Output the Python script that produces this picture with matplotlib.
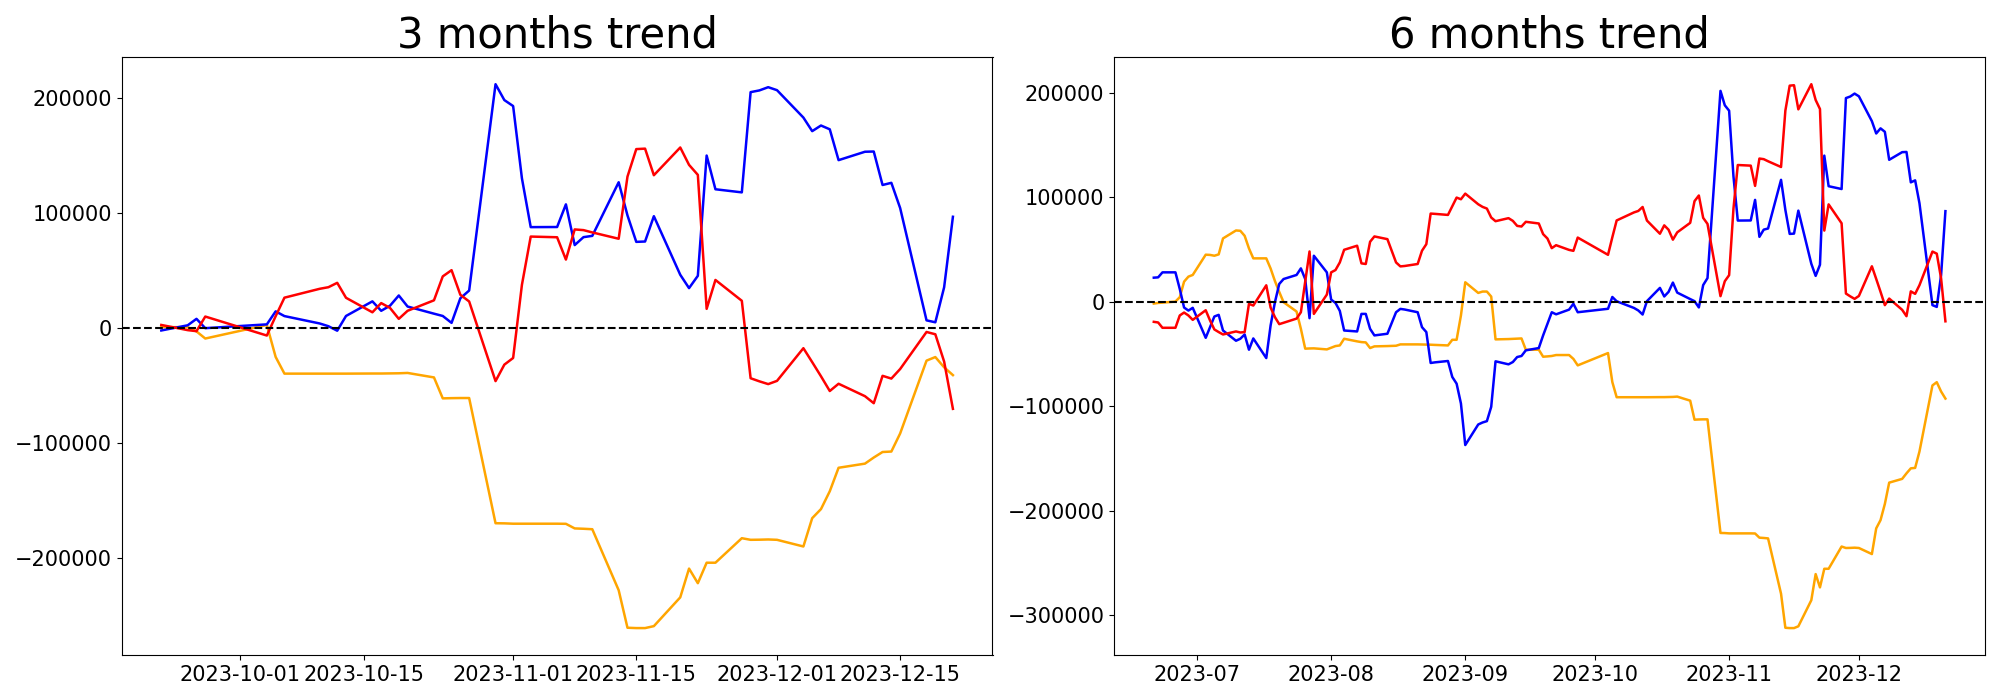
import numpy as np
import pandas as pd
import matplotlib
matplotlib.use("Agg")
import matplotlib.pyplot as plt


# 取引日（KRX休場日を除く）
krx_holidays = ["2023-08-15", "2023-09-28", "2023-09-29",
                "2023-10-02", "2023-10-03", "2023-10-09"]
dates_6m = pd.bdate_range("2023-06-21", "2023-12-21", freq="C", holidays=krx_holidays)
dates_3m = dates_6m[dates_6m >= "2023-09-22"]

# 6ヶ月: 2023-06-21 ~ 2023-09-21 の累積値
six_blue = [23200, 23500, 28300, 28300, 12400, -5400, -8300, -5700,
            -34400, -24200, -14000, -12400, -27400, -37200, -35300, -31200, -45800, -35000,
            -53800, -22600, -300, 17200, 21900, 25800, 32100, 21900, -15600, 44200, 28300,
            2200, -1000, -8600, -27400, -28300, -11500, -11500, -25800, -32100, -30500,
            -9900, -6700, -7300, -9900, -24200, -28900, -58500, -57900, -56600, -71900,
            -78300, -97300,
            -137100, -117400, -115500, -114200, -100500, -56900, -59800, -57600, -52800,
            -51800, -46400, -44200, -32100, -21000, -9900]
six_red = [-19100, -19700, -24800, -24800, -13000, -10200, -13000, -17200,
           -8000, -17800, -26400, -28900, -31200, -28300, -29300, -28900, -1900, -3500,
           15900, -5400, -14600, -21300, -20000, -16000, -9900, 19400, 48300, -11500, 7000,
           28300, 30500, 37800, 49900, 53800, 36900, 36300, 57600, 62700, 60100,
           37800, 34000, 34400, 36300, 49000, 55300, 84600, 84300, 83300, 91600,
           99900, 98300,
           103700, 93500, 91000, 89400, 80800, 77300, 80200, 77600, 72800,
           72200, 76700, 75100, 64900, 60700, 51500]
six_orange = [-1600, -1000, -700, 300, 4500, 19400, 24200, 25800,
              45200, 45000, 44200, 45500, 60800, 68400, 68100, 63300, 51200, 41700,
              41700, 32000, 20000, 9500, -300, -9200, -25800, -44800, -44600, -44500, -45500,
              -43900, -42300, -41700, -35300, -37800, -38500, -38800, -44200, -42600, -42300,
              -42000, -40700, -40700, -40700, -40800, -40900, -41000, -41200, -41700, -36300,
              -36300, -13000,
              18800, 8600, 9900, 9900, 5100, -35900, -35600, -35400, -35200,
              -35000, -45800, -45800, -52500, -52200, -51800]

# 3ヶ月: 2023-09-22 ~ 2023-12-21 の累積値
three_blue = [-2000, 2500, 8100, 0,
              3300, 14600, 10500, 4100, 1700, -2200, 10600, 23300, 15100, 19500, 28400,
              18800, 12600, 10600, 4600, 26000, 32700, 212000, 198200,
              193000, 130200, 87800, 87900, 107600, 72200, 79100, 80200, 126800, 98000,
              75000, 75300, 97300, 46400, 34800, 45500, 150000, 120700, 118000, 205100,
              206600, 209400,
              206800, 183000, 171200, 176100, 172800, 146000, 153300, 153500, 124400,
              126300, 104400, 6800, 5100, 35500, 96800]
three_red = [2800, -1700, -2600, 10100,
             -6400, 10400, 26500, 34200, 35600, 39400, 26400, 13800, 21800, 17600, 8100,
             15100, 24200, 45000, 50400, 29000, 23200, -46000, -31700,
             -25900, 37700, 79600, 79000, 59600, 85800, 85200, 83200, 77700, 131700,
             155600, 156000, 132900, 157000, 141900, 133200, 16800, 41900, 23800, -43500,
             -46200, -48600,
             -45800, -17400, -29500, -41800, -54600, -48300, -59100, -65200, -41400,
             -43800, -35500, -3300, -5300, -29000, -70100]
three_orange = [900, 900, -2800, -9000,
                2800, -25000, -39500, -39500, -39500, -39500, -39500, -39400, -39400, -39300, -39200,
                -38900, -42800, -61000, -60800, -60700, -60700, -169500, -169600,
                -169900, -169900, -169900, -169900, -170000, -174000, -174300, -174700, -227700, -260300,
                -260600, -260600, -258900, -233900, -208900, -221600, -203800, -203800, -182500, -183900,
                -183800, -183600,
                -183900, -189700, -165100, -157200, -141700, -121300, -117700, -112400, -107600,
                -107200, -91500, -28200, -25100, -34000, -40800]

# 6ヶ月の後半 = 3ヶ月の累積 + 9/21時点の値
full_blue = six_blue + [v + six_blue[-1] for v in three_blue]
full_red = six_red + [v + six_red[-1] for v in three_red]
full_orange = six_orange + [v + six_orange[-1] for v in three_orange]

fig, axes = plt.subplots(1, 2, figsize=(20, 7))

panels = [
    (axes[0], dates_3m, three_blue, three_red, three_orange, "3 months trend"),
    (axes[1], dates_6m, full_blue, full_red, full_orange, "6 months trend"),
]
for ax, d, b, r, o, title in panels:
    ax.plot(d, o, color="orange", linewidth=1.8)
    ax.plot(d, b, color="blue", linewidth=1.8)
    ax.plot(d, r, color="red", linewidth=1.8)
    ax.axhline(0, color="black", linestyle="--", linewidth=1.5)
    ax.set_title(title, fontsize=30)
    ax.tick_params(axis="both", labelsize=15)

plt.tight_layout()
plt.savefig("out.png", dpi=100)
